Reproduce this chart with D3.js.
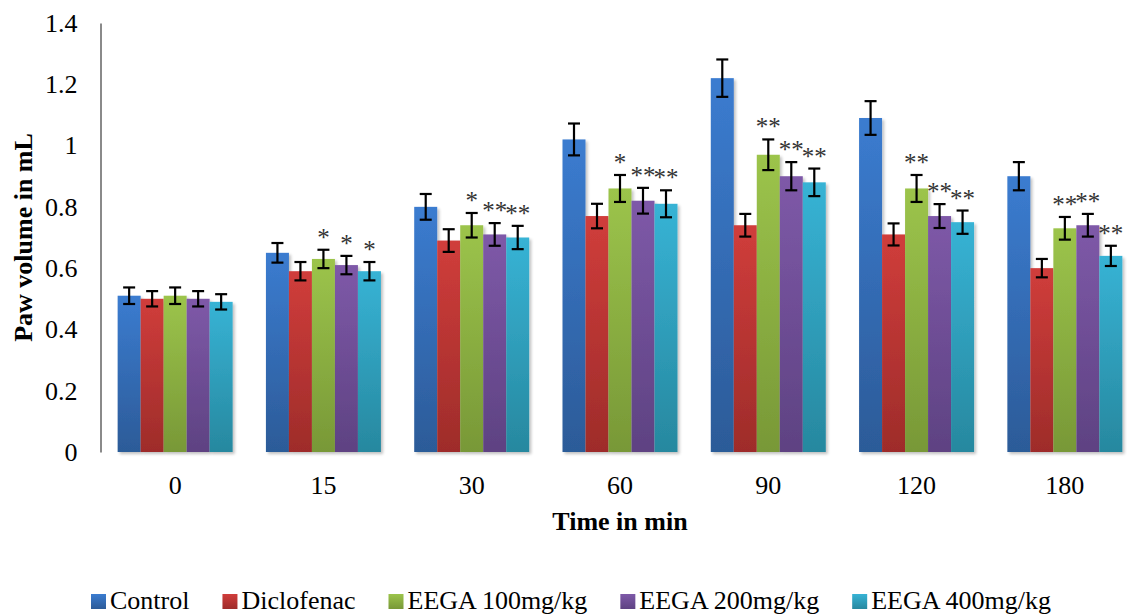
<!DOCTYPE html>
<html>
<head>
<meta charset="utf-8">
<script src="https://cdn.jsdelivr.net/npm/d3@7"></script>
<style>
  body { margin: 0; background: #fff; }
  svg { display: block; }
  svg text { font-family: "Liberation Serif", "Times New Roman", "DejaVu Serif", serif !important; }
</style>
</head>
<body>
<svg id="chart" width="1128" height="615"></svg>
<script>
// ---- data ----
const categories = ["0", "15", "30", "60", "90", "120", "180"];
const seriesNames = ["Control", "Diclofenac", "EEGA 100mg/kg", "EEGA 200mg/kg", "EEGA 400mg/kg"];
const control    = [0.51, 0.65, 0.80, 1.02, 1.22, 1.09, 0.90];
const diclofenac = [0.50, 0.59, 0.69, 0.77, 0.74, 0.71, 0.60];
const eega100    = [0.51, 0.63, 0.74, 0.86, 0.97, 0.86, 0.73];
const eega200    = [0.50, 0.61, 0.71, 0.82, 0.90, 0.77, 0.74];
const eega400    = [0.49, 0.59, 0.70, 0.81, 0.88, 0.75, 0.64];
const controlErr    = [0.027, 0.032, 0.042, 0.052, 0.061, 0.055, 0.046];
const diclofenacErr = [0.025, 0.030, 0.037, 0.040, 0.037, 0.036, 0.030];
const eega100Err    = [0.027, 0.030, 0.040, 0.044, 0.050, 0.044, 0.037];
const eega200Err    = [0.025, 0.030, 0.037, 0.042, 0.046, 0.039, 0.037];
const eega400Err    = [0.025, 0.030, 0.038, 0.044, 0.045, 0.038, 0.033];
const controlSig    = ["", "", "", "", "", "", ""];
const diclofenacSig = ["", "", "", "", "", "", ""];
const eega100Sig    = ["", "*", "*", "*", "**", "**", "**"];
const eega200Sig    = ["", "*", "**", "**", "**", "**", "**"];
const eega400Sig    = ["", "*", "**", "**", "**", "**", "**"];
const yTicks = [0, 0.2, 0.4, 0.6, 0.8, 1, 1.2, 1.4];
const xTitle = "Time in min";
const yTitle = "Paw volume in mL";

const values = [control, diclofenac, eega100, eega200, eega400];
const errors = [controlErr, diclofenacErr, eega100Err, eega200Err, eega400Err];
const sigs = [controlSig, diclofenacSig, eega100Sig, eega200Sig, eega400Sig];
const colorsTop = ["#3b7cd0", "#d03d3b", "#9cc44b", "#7e59a8", "#37b3d5"];
const colorsBot = ["#2c5b98", "#9e2c2a", "#789837", "#5e4282", "#27889f"];

// ---- layout ----
const FONT = '"Liberation Serif", "Times New Roman", "DejaVu Serif", serif';
const svg = d3.select("#chart");
const x0 = 101, x1 = 1139, yTop = 23, yBot = 452;

const x = d3.scaleBand().domain(categories).range([x0, x1])
  .paddingInner(0.2245).paddingOuter(0.11225);
const xs = d3.scaleBand().domain(d3.range(seriesNames.length)).range([0, x.bandwidth()]);
const y = d3.scaleLinear().domain([0, 1.4]).range([yBot, yTop]);

const defs = svg.append("defs");
seriesNames.forEach((s, i) => {
  ["grad", "lgrad"].forEach(pre => {
    const g = defs.append("linearGradient").attr("id", pre + i)
      .attr("x1", 0).attr("y1", 0).attr("x2", 0).attr("y2", 1);
    g.append("stop").attr("offset", "0%").attr("stop-color", colorsTop[i]);
    g.append("stop").attr("offset", "100%").attr("stop-color", colorsBot[i]);
  });
});
const f = defs.append("filter").attr("id", "shadow").attr("x", "-20%").attr("y", "-20%").attr("width", "150%").attr("height", "150%");
f.append("feGaussianBlur").attr("in", "SourceAlpha").attr("stdDeviation", 1.5);
f.append("feOffset").attr("dx", 2).attr("dy", 2).attr("result", "ob");
f.append("feComponentTransfer").append("feFuncA").attr("type", "linear").attr("slope", 0.25);
const m = f.append("feMerge");
m.append("feMergeNode");
m.append("feMergeNode").attr("in", "SourceGraphic");

// bars
const groups = svg.append("g").selectAll("g")
  .data(seriesNames.map((s, i) => i)).join("g");
groups.selectAll("rect")
  .data(si => categories.map((c, ci) => ({ si, c, v: values[si][ci] })))
  .join("rect")
  .attr("x", d => x(d.c) + xs(d.si))
  .attr("y", d => y(d.v))
  .attr("width", xs.bandwidth())
  .attr("height", d => y(0) - y(d.v))
  .attr("fill", d => `url(#grad${d.si})`)
  .attr("filter", "url(#shadow)");

// axes
const yAxis = svg.append("g").attr("transform", `translate(${x0 - 0.5},0)`)
  .call(d3.axisLeft(y).tickValues(yTicks).tickSize(0).tickPadding(23).tickFormat(d3.format("~g")))
  .attr("font-family", FONT);
yAxis.select(".domain").attr("stroke", "#8a8a8a").attr("stroke-width", 2);
yAxis.selectAll("text").attr("font-size", 26).attr("fill", "#000");

const xAxis = svg.append("g").attr("transform", `translate(0,${yBot + 0.5})`)
  .call(d3.axisBottom(x).tickSize(0).tickPadding(23))
  .attr("font-family", FONT);
xAxis.select(".domain").attr("stroke", "#8a8a8a").attr("stroke-width", 2).attr("filter", "url(#shadow)");
xAxis.selectAll("text").attr("font-size", 26).attr("fill", "#000");

// error bars
const eb = svg.append("g").attr("stroke", "#000").attr("stroke-width", 2.2);
seriesNames.forEach((s, si) => {
  categories.forEach((c, ci) => {
    const cx = x(c) + xs(si) + xs.bandwidth() / 2;
    const v = values[si][ci], e = errors[si][ci];
    const g = eb.append("g");
    g.append("line").attr("x1", cx).attr("x2", cx).attr("y1", y(v + e)).attr("y2", y(v - e));
    g.append("line").attr("x1", cx - 6).attr("x2", cx + 6).attr("y1", y(v + e)).attr("y2", y(v + e));
    g.append("line").attr("x1", cx - 6).attr("x2", cx + 6).attr("y1", y(v - e)).attr("y2", y(v - e));
  });
});

// significance stars
const st = svg.append("g").attr("font-family", FONT);
seriesNames.forEach((s, si) => {
  categories.forEach((c, ci) => {
    const lab = sigs[si][ci];
    if (!lab) return;
    const cx = x(c) + xs(si) + xs.bandwidth() / 2;
    st.append("text").attr("x", cx).attr("y", y(values[si][ci] + errors[si][ci]) - 4)
      .attr("text-anchor", "middle").attr("font-size", 25).attr("fill", "#333")
      .text(lab);
  });
});

// titles
svg.append("text").attr("x", 620).attr("y", 530)
  .attr("text-anchor", "middle").attr("font-size", 26).attr("font-weight", "bold")
  .attr("font-family", FONT).text(xTitle);
svg.append("text").attr("transform", `translate(32,${(yTop + yBot) / 2}) rotate(-90)`)
  .attr("text-anchor", "middle").attr("font-size", 26).attr("font-weight", "bold")
  .attr("font-family", FONT).text(yTitle);

// legend
const lg = svg.append("g").attr("font-family", FONT);
let lx = 91;
seriesNames.forEach((s, i) => {
  lg.append("rect").attr("x", lx).attr("y", 594).attr("width", 15).attr("height", 15)
    .attr("fill", `url(#lgrad${i})`);
  const t = lg.append("text").attr("x", lx + 19).attr("y", 609)
    .attr("font-size", 26).text(s);
  lx += 19 + t.node().getComputedTextLength() + 33;
});
</script>
</body>
</html>
